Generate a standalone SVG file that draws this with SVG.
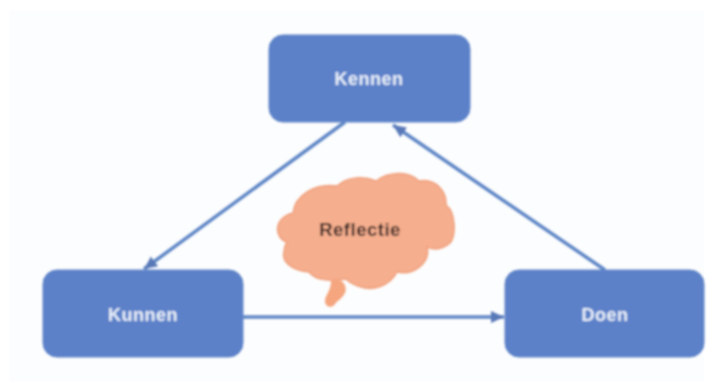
<svg xmlns="http://www.w3.org/2000/svg" width="712" height="391" viewBox="0 0 712 391">
<defs>
<style>
.box{fill:#5b81c9;stroke:#6386c8;stroke-width:1}
.lbl{font-family:"Liberation Sans",Arial,sans-serif;font-weight:700;font-size:18px;text-anchor:middle;fill:#e8eff9;letter-spacing:.5px}
.con{fill:none;stroke:#5f86c6;stroke-width:3.500;marker-end:url(#arrow)}
</style>
<marker id="arrow" markerUnits="userSpaceOnUse" markerWidth="16" markerHeight="14" refX="13" refY="6" orient="auto">
<path d="M0 0L13 6L0 12Z" fill="#5878b8"/>
</marker>
<filter id="soft" x="-5%" y="-5%" width="110%" height="110%"><feGaussianBlur stdDeviation="0.8"/></filter>
</defs>
<rect width="712" height="391" fill="#ffffff"/>
<rect x="9" y="10" width="695" height="372" fill="#fcfdfe"/>
<g filter="url(#soft)">
<g id="connectors">
<path class="con" d="M345 122L144 269"/>
<path class="con" d="M605 270L393 125"/>
<path class="con" d="M243 317L504 317"/>
</g>
<g id="kennen"><rect class="box" x="269" y="35" width="201" height="87" rx="14"/><text class="lbl" x="369" y="85">Kennen</text></g>
<g id="kunnen"><rect class="box" x="43" y="270" width="200" height="87" rx="14"/><text class="lbl" x="143" y="321">Kunnen</text></g>
<g id="doen"><rect class="box" x="505" y="270" width="199" height="87" rx="14"/><text class="lbl" x="605" y="321">Doen</text></g>
<g id="reflectie">
<path d="M293 213C295 195 315 183 337 186C348 176 364 176 376 181C388 172 408 170 419 181C436 178 447 192 446 205C456 212 456 236 450 243C442 250 434 250 427 247C431 262 414 276 397 272C390 286 372 292 358 286C352 284 349 282 346 279C330 282 315 280 309 272C296 271 281 264 284 252C284 247 285 245 287 242C274 238 273 218 293 213Z" fill="#f5ae8e" stroke="#f0a07c" stroke-width="1.500"/>
<path d="M331 281C342 276 348 286 345 293C342 299 337 301 335 304C332 309 325 307 325 301C325 295 331 291 331 281Z" fill="#f5a67f"/>
<text x="360" y="236" style="font-family:'Liberation Sans',Arial,sans-serif;font-weight:700;font-size:18.500px;text-anchor:middle;fill:#3a2824;letter-spacing:.5px">Reflectie</text>
</g>
</g>
</svg>
